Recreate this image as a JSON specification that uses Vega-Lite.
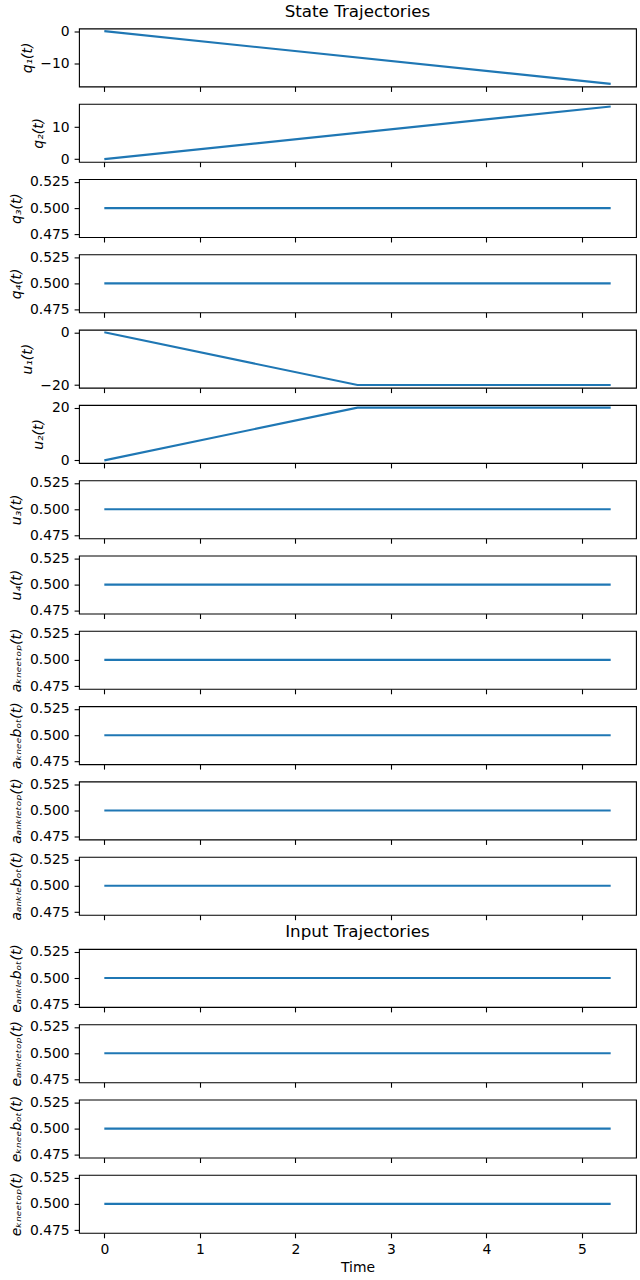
{
"$schema": "https://vega.github.io/schema/vega-lite/v6.json",
"padding": {"left": 9, "top": 2.5, "right": 0, "bottom": 0},
"config": {
 "font": "DejaVu Sans",
 "view": {"stroke": "black", "strokeWidth": 1.1},
 "axis": {"grid": false, "domain": false, "tickColor": "black", "tickWidth": 1.1, "tickSize": 4.9, "labelColor": "black", "labelFontSize": 13.9, "labelFont": "DejaVu Sans", "labelPadding": 4.9, "labelFlush": false, "labelOverlap": false, "labelBound": false, "titleFont": "DejaVu Sans", "titleFontSize": 13.9, "titleFontWeight": "normal", "titleColor": "black", "titlePadding": 5.6},
 "axisY": {"titleFontStyle": "italic"},
 "title": {"fontSize": 16.7, "fontWeight": "normal", "font": "DejaVu Sans", "color": "black", "offset": 3.5, "anchor": "middle", "frame": "group"},
 "line": {"color": "#1f77b4", "strokeWidth": 2.1}
},
"datasets": {"traj": [
 {"s": "q1", "t": 0, "v": 0}, {"s": "q1", "t": 5.3, "v": -16.5},
 {"s": "q2", "t": 0, "v": 0}, {"s": "q2", "t": 5.3, "v": 16.5},
 {"s": "q3", "t": 0, "v": 0.5}, {"s": "q3", "t": 5.3, "v": 0.5},
 {"s": "q4", "t": 0, "v": 0.5}, {"s": "q4", "t": 5.3, "v": 0.5},
 {"s": "u1", "t": 0, "v": 0}, {"s": "u1", "t": 2.65, "v": -20}, {"s": "u1", "t": 5.3, "v": -20},
 {"s": "u2", "t": 0, "v": 0}, {"s": "u2", "t": 2.65, "v": 20}, {"s": "u2", "t": 5.3, "v": 20},
 {"s": "u3", "t": 0, "v": 0.5}, {"s": "u3", "t": 5.3, "v": 0.5},
 {"s": "u4", "t": 0, "v": 0.5}, {"s": "u4", "t": 5.3, "v": 0.5},
 {"s": "a_kneetop", "t": 0, "v": 0.5}, {"s": "a_kneetop", "t": 5.3, "v": 0.5},
 {"s": "a_kneebot", "t": 0, "v": 0.5}, {"s": "a_kneebot", "t": 5.3, "v": 0.5},
 {"s": "a_ankletop", "t": 0, "v": 0.5}, {"s": "a_ankletop", "t": 5.3, "v": 0.5},
 {"s": "a_anklebot", "t": 0, "v": 0.5}, {"s": "a_anklebot", "t": 5.3, "v": 0.5},
 {"s": "e_anklebot", "t": 0, "v": 0.5}, {"s": "e_anklebot", "t": 5.3, "v": 0.5},
 {"s": "e_ankletop", "t": 0, "v": 0.5}, {"s": "e_ankletop", "t": 5.3, "v": 0.5},
 {"s": "e_kneebot", "t": 0, "v": 0.5}, {"s": "e_kneebot", "t": 5.3, "v": 0.5},
 {"s": "e_kneetop", "t": 0, "v": 0.5}, {"s": "e_kneetop", "t": 5.3, "v": 0.5}
]},
"spacing": 1.5,
"vconcat": [
 {"spacing": 17.3, "bounds": "flush", "vconcat": [
  {"title": "State Trajectories", "width": 557, "height": 58, "data": {"name": "traj"}, "transform": [{"filter": "datum.s === 'q1'"}], "mark": "line",
   "encoding": {"x": {"field": "t", "type": "quantitative", "scale": {"domain": [-0.265, 5.565], "nice": false, "zero": false}, "axis": {"values": [0,1,2,3,4,5], "labels": false, "title": null}},
    "y": {"field": "v", "type": "quantitative", "scale": {"domain": [-17.325, 0.825], "nice": false, "zero": false}, "axis": {"values": [0, -10], "title": "q₁(t)"}}}},
  {"width": 557, "height": 58, "data": {"name": "traj"}, "transform": [{"filter": "datum.s === 'q2'"}], "mark": "line",
   "encoding": {"x": {"field": "t", "type": "quantitative", "scale": {"domain": [-0.265, 5.565], "nice": false, "zero": false}, "axis": {"values": [0,1,2,3,4,5], "labels": false, "title": null}},
    "y": {"field": "v", "type": "quantitative", "scale": {"domain": [-0.825, 17.325], "nice": false, "zero": false}, "axis": {"values": [0, 10], "title": "q₂(t)"}}}},
  {"width": 557, "height": 58, "data": {"name": "traj"}, "transform": [{"filter": "datum.s === 'q3'"}], "mark": "line",
   "encoding": {"x": {"field": "t", "type": "quantitative", "scale": {"domain": [-0.265, 5.565], "nice": false, "zero": false}, "axis": {"values": [0,1,2,3,4,5], "labels": false, "title": null}},
    "y": {"field": "v", "type": "quantitative", "scale": {"domain": [0.4725, 0.5275], "nice": false, "zero": false}, "axis": {"values": [0.475, 0.5, 0.525], "format": ".3f", "title": "q₃(t)"}}}},
  {"width": 557, "height": 58, "data": {"name": "traj"}, "transform": [{"filter": "datum.s === 'q4'"}], "mark": "line",
   "encoding": {"x": {"field": "t", "type": "quantitative", "scale": {"domain": [-0.265, 5.565], "nice": false, "zero": false}, "axis": {"values": [0,1,2,3,4,5], "labels": false, "title": null}},
    "y": {"field": "v", "type": "quantitative", "scale": {"domain": [0.4725, 0.5275], "nice": false, "zero": false}, "axis": {"values": [0.475, 0.5, 0.525], "format": ".3f", "title": "q₄(t)"}}}},
  {"width": 557, "height": 58, "data": {"name": "traj"}, "transform": [{"filter": "datum.s === 'u1'"}], "mark": "line",
   "encoding": {"x": {"field": "t", "type": "quantitative", "scale": {"domain": [-0.265, 5.565], "nice": false, "zero": false}, "axis": {"values": [0,1,2,3,4,5], "labels": false, "title": null}},
    "y": {"field": "v", "type": "quantitative", "scale": {"domain": [-21, 1], "nice": false, "zero": false}, "axis": {"values": [0, -20], "title": "u₁(t)"}}}},
  {"width": 557, "height": 58, "data": {"name": "traj"}, "transform": [{"filter": "datum.s === 'u2'"}], "mark": "line",
   "encoding": {"x": {"field": "t", "type": "quantitative", "scale": {"domain": [-0.265, 5.565], "nice": false, "zero": false}, "axis": {"values": [0,1,2,3,4,5], "labels": false, "title": null}},
    "y": {"field": "v", "type": "quantitative", "scale": {"domain": [-1, 21], "nice": false, "zero": false}, "axis": {"values": [0, 20], "title": "u₂(t)"}}}},
  {"width": 557, "height": 58, "data": {"name": "traj"}, "transform": [{"filter": "datum.s === 'u3'"}], "mark": "line",
   "encoding": {"x": {"field": "t", "type": "quantitative", "scale": {"domain": [-0.265, 5.565], "nice": false, "zero": false}, "axis": {"values": [0,1,2,3,4,5], "labels": false, "title": null}},
    "y": {"field": "v", "type": "quantitative", "scale": {"domain": [0.4725, 0.5275], "nice": false, "zero": false}, "axis": {"values": [0.475, 0.5, 0.525], "format": ".3f", "title": "u₃(t)"}}}},
  {"width": 557, "height": 58, "data": {"name": "traj"}, "transform": [{"filter": "datum.s === 'u4'"}], "mark": "line",
   "encoding": {"x": {"field": "t", "type": "quantitative", "scale": {"domain": [-0.265, 5.565], "nice": false, "zero": false}, "axis": {"values": [0,1,2,3,4,5], "labels": false, "title": null}},
    "y": {"field": "v", "type": "quantitative", "scale": {"domain": [0.4725, 0.5275], "nice": false, "zero": false}, "axis": {"values": [0.475, 0.5, 0.525], "format": ".3f", "title": "u₄(t)"}}}},
  {"width": 557, "height": 58, "data": {"name": "traj"}, "transform": [{"filter": "datum.s === 'a_kneetop'"}], "mark": "line",
   "encoding": {"x": {"field": "t", "type": "quantitative", "scale": {"domain": [-0.265, 5.565], "nice": false, "zero": false}, "axis": {"values": [0,1,2,3,4,5], "labels": false, "title": null}},
    "y": {"field": "v", "type": "quantitative", "scale": {"domain": [0.4725, 0.5275], "nice": false, "zero": false}, "axis": {"values": [0.475, 0.5, 0.525], "format": ".3f", "title": "aₖₙₑₑₜₒₚ(t)"}}}},
  {"width": 557, "height": 58, "data": {"name": "traj"}, "transform": [{"filter": "datum.s === 'a_kneebot'"}], "mark": "line",
   "encoding": {"x": {"field": "t", "type": "quantitative", "scale": {"domain": [-0.265, 5.565], "nice": false, "zero": false}, "axis": {"values": [0,1,2,3,4,5], "labels": false, "title": null}},
    "y": {"field": "v", "type": "quantitative", "scale": {"domain": [0.4725, 0.5275], "nice": false, "zero": false}, "axis": {"values": [0.475, 0.5, 0.525], "format": ".3f", "title": "aₖₙₑₑbₒₜ(t)"}}}},
  {"width": 557, "height": 58, "data": {"name": "traj"}, "transform": [{"filter": "datum.s === 'a_ankletop'"}], "mark": "line",
   "encoding": {"x": {"field": "t", "type": "quantitative", "scale": {"domain": [-0.265, 5.565], "nice": false, "zero": false}, "axis": {"values": [0,1,2,3,4,5], "labels": false, "title": null}},
    "y": {"field": "v", "type": "quantitative", "scale": {"domain": [0.4725, 0.5275], "nice": false, "zero": false}, "axis": {"values": [0.475, 0.5, 0.525], "format": ".3f", "title": "aₐₙₖₗₑₜₒₚ(t)"}}}},
  {"width": 557, "height": 58, "data": {"name": "traj"}, "transform": [{"filter": "datum.s === 'a_anklebot'"}], "mark": "line",
   "encoding": {"x": {"field": "t", "type": "quantitative", "scale": {"domain": [-0.265, 5.565], "nice": false, "zero": false}, "axis": {"values": [0,1,2,3,4,5], "labels": false, "title": null}},
    "y": {"field": "v", "type": "quantitative", "scale": {"domain": [0.4725, 0.5275], "nice": false, "zero": false}, "axis": {"values": [0.475, 0.5, 0.525], "format": ".3f", "title": "aₐₙₖₗₑbₒₜ(t)"}}}}
 ]},
 {"spacing": 17.3, "bounds": "flush", "vconcat": [
  {"title": "Input Trajectories", "width": 557, "height": 58, "data": {"name": "traj"}, "transform": [{"filter": "datum.s === 'e_anklebot'"}], "mark": "line",
   "encoding": {"x": {"field": "t", "type": "quantitative", "scale": {"domain": [-0.265, 5.565], "nice": false, "zero": false}, "axis": {"values": [0,1,2,3,4,5], "labels": false, "title": null}},
    "y": {"field": "v", "type": "quantitative", "scale": {"domain": [0.4725, 0.5275], "nice": false, "zero": false}, "axis": {"values": [0.475, 0.5, 0.525], "format": ".3f", "title": "eₐₙₖₗₑbₒₜ(t)"}}}},
  {"width": 557, "height": 58, "data": {"name": "traj"}, "transform": [{"filter": "datum.s === 'e_ankletop'"}], "mark": "line",
   "encoding": {"x": {"field": "t", "type": "quantitative", "scale": {"domain": [-0.265, 5.565], "nice": false, "zero": false}, "axis": {"values": [0,1,2,3,4,5], "labels": false, "title": null}},
    "y": {"field": "v", "type": "quantitative", "scale": {"domain": [0.4725, 0.5275], "nice": false, "zero": false}, "axis": {"values": [0.475, 0.5, 0.525], "format": ".3f", "title": "eₐₙₖₗₑₜₒₚ(t)"}}}},
  {"width": 557, "height": 58, "data": {"name": "traj"}, "transform": [{"filter": "datum.s === 'e_kneebot'"}], "mark": "line",
   "encoding": {"x": {"field": "t", "type": "quantitative", "scale": {"domain": [-0.265, 5.565], "nice": false, "zero": false}, "axis": {"values": [0,1,2,3,4,5], "labels": false, "title": null}},
    "y": {"field": "v", "type": "quantitative", "scale": {"domain": [0.4725, 0.5275], "nice": false, "zero": false}, "axis": {"values": [0.475, 0.5, 0.525], "format": ".3f", "title": "eₖₙₑₑbₒₜ(t)"}}}},
  {"width": 557, "height": 58, "data": {"name": "traj"}, "transform": [{"filter": "datum.s === 'e_kneetop'"}], "mark": "line",
   "encoding": {"x": {"field": "t", "type": "quantitative", "scale": {"domain": [-0.265, 5.565], "nice": false, "zero": false}, "axis": {"values": [0,1,2,3,4,5], "labels": true, "title": "Time", "titlePadding": 4}},
    "y": {"field": "v", "type": "quantitative", "scale": {"domain": [0.4725, 0.5275], "nice": false, "zero": false}, "axis": {"values": [0.475, 0.5, 0.525], "format": ".3f", "title": "eₖₙₑₑₜₒₚ(t)"}}}}
 ]}
]
}
